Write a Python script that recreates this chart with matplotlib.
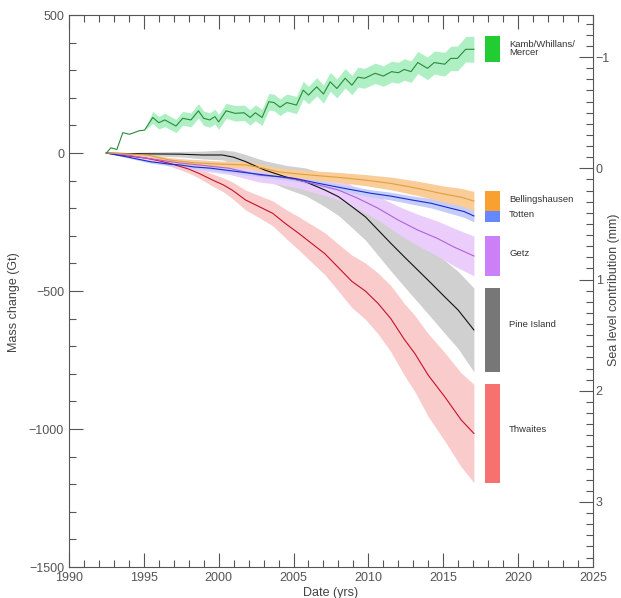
import numpy as np
import matplotlib
matplotlib.use("Agg")
import matplotlib.pyplot as plt
from matplotlib.ticker import MultipleLocator

# Kamb/Whillans/Mercer
t_kamb = [1992.5, 1992.8, 1993.2, 1993.6, 1994.05, 1994.7, 1995.05, 1995.6, 1996.0, 1996.4,
          1997.15, 1997.6, 1998.15, 1998.65, 1999.0, 1999.4, 1999.75, 2000.0, 2000.5, 2001.1,
          2001.7, 2002.1, 2002.45, 2002.9, 2003.35, 2003.7, 2004.1, 2004.55, 2005.2, 2005.65,
          2006.0, 2006.55, 2007.0, 2007.45, 2007.9, 2008.45, 2008.9, 2009.3, 2009.75, 2010.45,
          2011.0, 2011.55, 2012.0, 2012.4, 2012.85, 2013.3, 2013.95, 2014.4, 2015.1, 2015.5,
          2015.95, 2016.5, 2017.05]
v_kamb = [0, 19, 13, 74, 68, 81, 83, 129, 110, 120,
          98, 126, 120, 153, 126, 120, 132, 113, 153, 144,
          146, 129, 146, 129, 186, 183, 166, 183, 174, 228,
          210, 240, 214, 258, 234, 271, 246, 275, 271, 289,
          279, 295, 291, 303, 295, 328, 307, 328, 322, 343,
          343, 376, 376]
e_kamb = [0, 0, 0, 0, 0, 0, 0, 22, 23, 24,
          24, 25, 25, 26, 26, 26, 27, 27, 27, 28,
          28, 28, 29, 29, 30, 30, 30, 31, 31, 32,
          32, 33, 33, 34, 34, 35, 35, 36, 36, 37,
          37, 38, 38, 39, 39, 40, 41, 42, 43, 44,
          45, 46, 47]

# Thwaites
t_thw = [1992.5, 1993.5, 1994.5, 1995.2, 1996.0, 1996.7, 1997.4, 1998.0, 1998.7, 1999.6,
         2000.3, 2000.9, 2001.8, 2002.7, 2003.6, 2004.45, 2005.35, 2006.2, 2007.1, 2008.0,
         2008.9, 2009.8, 2010.65, 2011.5, 2012.4, 2013.1, 2014.0, 2015.1, 2016.2, 2017.05]
v_thw = [0, -8, -14, -19, -28, -37, -48, -58, -74, -98,
         -115, -134, -170, -194, -218, -255, -291, -327, -365, -415,
         -465, -500, -545, -600, -675, -726, -805, -883, -967, -1016]
e_thw = [0, 3, 5, 7, 9, 10, 12, 14, 17, 22,
         25, 30, 36, 40, 45, 52, 60, 68, 76, 85,
         95, 102, 110, 120, 130, 138, 150, 160, 170, 178]

# Pine Island
t_pig = [1992.5, 1994.0, 1995.5, 1997.4, 1998.9, 2000.25, 2001.0, 2001.8, 2002.5, 2003.1,
         2004.45, 2005.8, 2007.1, 2008.0, 2008.9, 2009.8, 2010.65, 2011.5, 2012.4, 2013.3,
         2014.2, 2015.1, 2016.0, 2017.05]
v_pig = [0, -2, -3, -4, -7, -7, -15, -31, -48, -62,
         -86, -104, -134, -158, -194, -231, -279, -327, -376, -424,
         -472, -521, -569, -641]
e_pig = [0, 4, 7, 10, 14, 18, 22, 26, 30, 34,
         42, 50, 60, 68, 76, 84, 92, 100, 108, 116,
         124, 132, 140, 152]

# Getz
t_getz = [1992.5, 1993.8, 1995.4, 1997.4, 1999.0, 2000.7, 2002.7, 2004.0, 2005.3, 2006.7,
          2008.0, 2009.3, 2010.65, 2012.0, 2013.3, 2014.6, 2015.7, 2017.05]
v_getz = [0, -7, -20, -36, -45, -55, -80, -86, -98, -116,
          -134, -164, -200, -243, -279, -309, -340, -373]
e_getz = [0, 5, 10, 16, 20, 22, 25, 27, 29, 32,
          35, 39, 43, 50, 57, 63, 68, 72]

# Totten
t_tot = [1992.5, 1993.8, 1995.4, 1996.7, 1997.4, 1998.3, 1999.5, 2000.5, 2001.8, 2003.6,
         2005.1, 2006.7, 2008.4, 2010.2, 2011.5, 2012.9, 2014.2, 2015.5, 2016.4, 2017.05]
v_tot = [0, -13, -31, -40, -43, -50, -55, -62, -71, -83,
         -92, -110, -128, -146, -156, -170, -182, -200, -212, -228]
e_tot = [0, 3, 5, 6, 6, 7, 7, 8, 8, 9,
         10, 11, 12, 13, 14, 15, 17, 19, 21, 22]

# Bellingshausen
t_bel = [1992.5, 1994.0, 1995.3, 1996.7, 1998.3, 2000.0, 2001.8, 2003.0, 2004.0, 2005.0,
         2006.2, 2008.0, 2009.8, 2011.5, 2013.3, 2015.1, 2016.2, 2017.05]
v_bel = [0, -3, -8, -25, -35, -40, -43, -55, -68, -74,
         -80, -88, -98, -110, -128, -149, -160, -174]
e_bel = [0, 3, 5, 8, 10, 11, 12, 13, 14, 15,
         16, 18, 20, 23, 26, 29, 32, 35]

# name, t, v, err, line colour, band colour, legend colour
series = [
    ("Pine Island", t_pig, v_pig, e_pig, "#111111", "#d0d0d0", "#777777"),
    ("Thwaites", t_thw, v_thw, e_thw, "#c8102a", "#f9cbcb", "#f87171"),
    ("Getz", t_getz, v_getz, e_getz, "#b060d8", "#ebcdfb", "#cc80f8"),
    ("Totten", t_tot, v_tot, e_tot, "#1a2ad0", "#c4ccf8", "#6688ff"),
    ("Bellingshausen", t_bel, v_bel, e_bel, "#e0a040", "#f9cc98", "#f8a030"),
    ("Kamb/Whillans/\nMercer", t_kamb, v_kamb, e_kamb, "#2a8a3a", "#aef0c4", "#22cc33"),
]

label_y = {"Pine Island": -620, "Thwaites": -1000, "Getz": -365, "Totten": -222,
           "Bellingshausen": -167, "Kamb/Whillans/\nMercer": 380}

grey = "#555555"
plt.rcParams['font.family'] = ['Liberation Sans', 'DejaVu Sans']

fig = plt.figure(figsize=(6.21, 5.98), dpi=100)
ax = fig.add_axes([0.111, 0.0518, 0.8438, 0.923])

for name, t, v, e, lc, bc, gc in series:
    t = np.array(t); v = np.array(v); e = np.array(e)
    ax.fill_between(t, v - e, v + e, color=bc, lw=0, zorder=1)
for name, t, v, e, lc, bc, gc in series:
    ax.plot(t, v, color=lc, lw=0.8, zorder=3)
    ax.bar(2018.3, 2 * e[-1], bottom=v[-1] - e[-1], width=1.0, color=gc, zorder=2)
    ax.text(2019.4, label_y[name], name, fontsize=6.8, color="#333333",
            va="center", ha="left", linespacing=0.9)

ax.set_xlim(1990, 2025)
ax.set_ylim(-1500, 500)
ax.xaxis.set_major_locator(MultipleLocator(5))
ax.xaxis.set_minor_locator(MultipleLocator(1))
ax.yaxis.set_major_locator(MultipleLocator(500))
ax.yaxis.set_minor_locator(MultipleLocator(100))
ax.tick_params(which="both", direction="in", top=True, colors=grey, labelsize=9)
ax.tick_params(which="major", length=10, width=0.8)
ax.tick_params(which="minor", length=5, width=0.8)
ax.tick_params(axis="y", which="both", right=False)
for s in ax.spines.values():
    s.set_color(grey)
    s.set_linewidth(0.8)
ax.set_xlabel("Date (yrs)", fontsize=9, color="#444444", labelpad=2)
ax.set_ylabel("Mass change (Gt)", fontsize=9, color="#444444")
ax.yaxis.set_label_coords(-0.093, 0.48)

ax2 = ax.twinx()
ax2.set_ylim(3.585, -1.378)
ax2.yaxis.set_major_locator(MultipleLocator(1))
ax2.yaxis.set_minor_locator(MultipleLocator(0.1))
ax2.tick_params(which="both", direction="in", colors=grey, labelsize=9, pad=2)
ax2.tick_params(which="major", length=10, width=0.8)
ax2.tick_params(which="minor", length=5, width=0.8)
for s in ax2.spines.values():
    s.set_visible(False)
fig.text(0.988, 0.515, "Sea level contribution (mm)", rotation=90, fontsize=9,
         color="#444444", ha="center", va="center")

fig.savefig("out.png", dpi=100)
